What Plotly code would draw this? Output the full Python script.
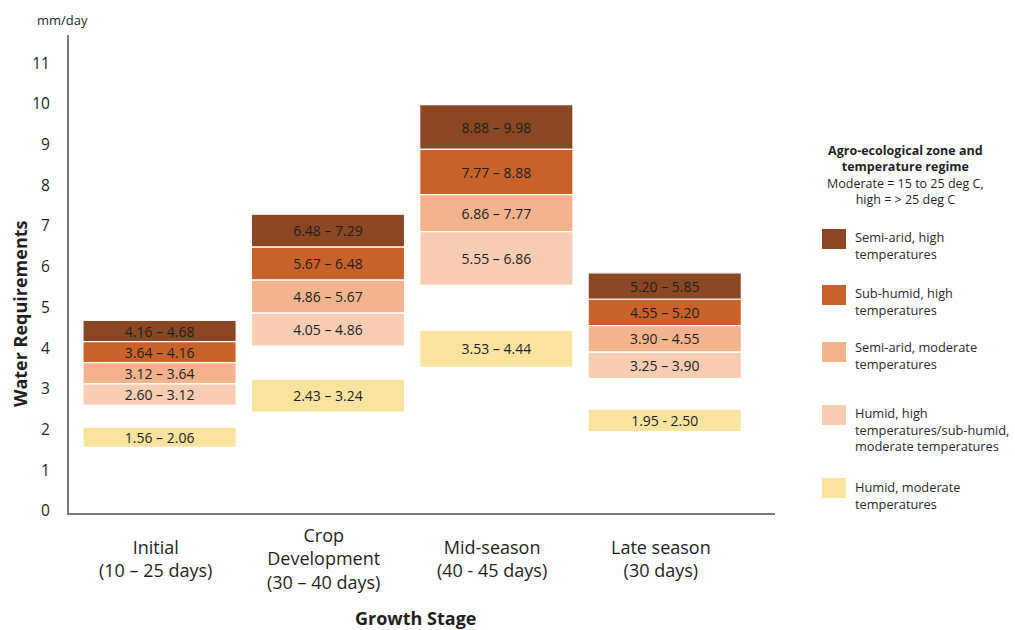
import plotly.graph_objects as go

# Growth stages (x categories)
stages = [
    "Initial<br>(10 – 25 days)",
    "Crop<br>Development<br>(30 – 40 days)",
    "Mid-season<br>(40 - 45 days)",
    "Late season<br>(30 days)",
]

# Agro-ecological zones, drawn top to bottom
zones = [
    "Semi-arid, high<br>temperatures",
    "Sub-humid, high<br>temperatures",
    "Semi-arid, moderate<br>temperatures",
    "Humid, high<br>temperatures/sub-humid,<br>moderate temperatures",
    "Humid, moderate<br>temperatures",
]
zone_colors = ["#8b4723", "#c9622a", "#f3b48d", "#f8cdb4", "#fbe4a0"]

# Water requirement ranges (mm/day): lower and upper bound per stage
semi_arid_high_lo = [4.16, 6.48, 8.88, 5.20]
semi_arid_high_hi = [4.68, 7.29, 9.98, 5.85]
sub_humid_high_lo = [3.64, 5.67, 7.77, 4.55]
sub_humid_high_hi = [4.16, 6.48, 8.88, 5.20]
semi_arid_mod_lo = [3.12, 4.86, 6.86, 3.90]
semi_arid_mod_hi = [3.64, 5.67, 7.77, 4.55]
humid_high_lo = [2.60, 4.05, 5.55, 3.25]
humid_high_hi = [3.12, 4.86, 6.86, 3.90]
humid_mod_lo = [1.56, 2.43, 3.53, 1.95]
humid_mod_hi = [2.06, 3.24, 4.44, 2.50]

lows = [semi_arid_high_lo, sub_humid_high_lo, semi_arid_mod_lo, humid_high_lo, humid_mod_lo]
highs = [semi_arid_high_hi, sub_humid_high_hi, semi_arid_mod_hi, humid_high_hi, humid_mod_hi]

y_ticks = list(range(0, 12))

FONT = "Open Sans"
TEXT = "#1f1f1f"

# plot-area geometry in pixels
W, H = 1015, 630
ML, MR, MT, MB = 69, 240, 35, 117
PW, PH = W - ML - MR, H - MT - MB


def px_x(px):
    return (px - ML) / PW


def px_y(py):
    return (H - MB - py) / PH


fig = go.Figure()

for zi, (zone, color) in enumerate(zip(zones, zone_colors)):
    lo, hi = lows[zi], highs[zi]
    labels = []
    for si in range(len(stages)):
        sep = " - " if (zi == 4 and si == 3) else " – "
        labels.append(f"{lo[si]:.2f}{sep}{hi[si]:.2f}")
    fig.add_trace(go.Bar(
        x=stages,
        y=[h - l for h, l in zip(hi, lo)],
        base=lo,
        width=0.91,
        name=zone.replace("<br>", " "),
        marker=dict(color=color, line=dict(color="white", width=1.2)),
        text=labels,
        textposition="inside",
        insidetextanchor="middle",
        textfont=dict(family=FONT, size=14, color=TEXT),
        showlegend=False,
        hoverinfo="skip",
    ))

annotations = []

# stage labels under the axis
for s in stages:
    annotations.append(dict(
        x=s, xref="x", y=px_y(558), yref="paper", xshift=-4,
        text=s, showarrow=False, xanchor="center", yanchor="middle",
        align="center", font=dict(family=FONT, size=18, color=TEXT),
    ))

annotations += [
    dict(x=px_x(415), y=px_y(618), xref="paper", yref="paper",
         text="<b>Growth Stage</b>", showarrow=False,
         xanchor="center", yanchor="middle",
         font=dict(family=FONT, size=18, color=TEXT)),
    dict(x=px_x(20), y=px_y(314), xref="paper", yref="paper",
         text="<b>Water Requirements</b>", showarrow=False, textangle=-90,
         xanchor="center", yanchor="middle",
         font=dict(family=FONT, size=18, color=TEXT)),
    dict(x=px_x(62), y=px_y(20), xref="paper", yref="paper",
         text="mm/day", showarrow=False, xanchor="center", yanchor="middle",
         font=dict(family=FONT, size=13, color=TEXT)),
    dict(x=px_x(906), y=px_y(175), xref="paper", yref="paper",
         text="<b>Agro-ecological zone and<br>temperature regime</b><br>"
              "Moderate = 15 to 25 deg C,<br>high = > 25 deg C",
         showarrow=False, xanchor="center", yanchor="middle", align="center",
         font=dict(family=FONT, size=12.5, color=TEXT)),
]

# custom legend: colour swatches with wrapped labels
swatch_y = [239, 295, 352, 415, 488]
label_y = [245, 301, 355, 429, 495]
shapes = []
for zone, color, sy, ly in zip(zones, zone_colors, swatch_y, label_y):
    shapes.append(dict(
        type="rect", xref="paper", yref="paper",
        x0=px_x(822), x1=px_x(846), y0=px_y(sy - 10), y1=px_y(sy + 10),
        fillcolor=color, line=dict(width=0),
    ))
    annotations.append(dict(
        x=px_x(853), y=px_y(ly), xref="paper", yref="paper",
        text=zone, showarrow=False, xanchor="left", yanchor="middle",
        align="left", font=dict(family=FONT, size=12.8, color="#2a2a2a"),
    ))

fig.update_layout(
    width=W, height=H,
    margin=dict(l=ML, r=MR, t=MT, b=MB, pad=0),
    paper_bgcolor="white", plot_bgcolor="white",
    barmode="overlay",
    showlegend=False,
    font=dict(family=FONT, color=TEXT),
    uniformtext=dict(minsize=14, mode="show"),
    xaxis=dict(
        categoryorder="array", categoryarray=stages,
        range=[-0.538, 3.655],
        showticklabels=False, ticks="",
        showline=True, linecolor="#7a7a7a", linewidth=2,
        showgrid=False, zeroline=False, fixedrange=True,
    ),
    yaxis=dict(
        range=[-0.05, 11.69],
        tickvals=y_ticks, ticktext=[str(v) for v in y_ticks],
        ticks="", ticklabelstandoff=14,
        tickfont=dict(family=FONT, size=15.5, color=TEXT),
        showline=True, linecolor="#7a7a7a", linewidth=2,
        showgrid=False, zeroline=False, fixedrange=True,
    ),
    annotations=annotations,
    shapes=shapes,
)

fig.write_html("out.html")
